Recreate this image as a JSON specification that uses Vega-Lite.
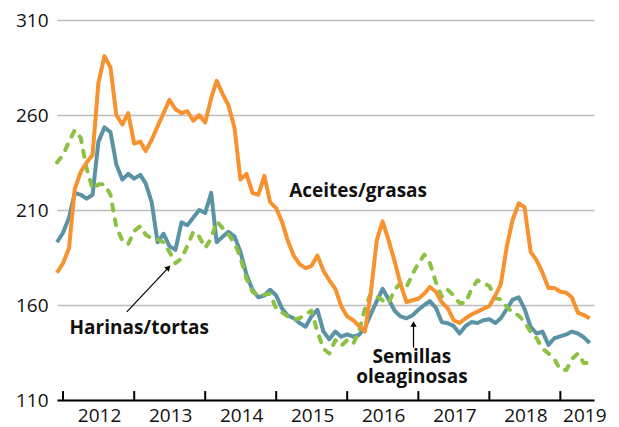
{
  "$schema": "https://vega.github.io/schema/vega-lite/v6.json",
  "width": 537,
  "height": 380,
  "autosize": "none",
  "padding": {"left": 57, "top": 20, "right": 25, "bottom": 27},
  "background": "white",
  "config": {"view": {"stroke": null}, "font": "Open Sans"},
  "datasets": {
    "series": [
      {"fecha": "2011-12-01", "aceites": 177, "semillas": 193, "harinas": 235},
      {"fecha": "2012-01-01", "aceites": 182, "semillas": 198, "harinas": 239},
      {"fecha": "2012-02-01", "aceites": 190, "semillas": 206, "harinas": 246},
      {"fecha": "2012-03-01", "aceites": 221, "semillas": 219, "harinas": 252},
      {"fecha": "2012-04-01", "aceites": 230, "semillas": 218, "harinas": 248},
      {"fecha": "2012-05-01", "aceites": 235, "semillas": 216, "harinas": 232},
      {"fecha": "2012-06-01", "aceites": 239, "semillas": 218, "harinas": 221},
      {"fecha": "2012-07-01", "aceites": 277, "semillas": 246, "harinas": 223.5},
      {"fecha": "2012-08-01", "aceites": 291, "semillas": 253.5, "harinas": 223.5},
      {"fecha": "2012-09-01", "aceites": 285, "semillas": 251, "harinas": 218},
      {"fecha": "2012-10-01", "aceites": 260, "semillas": 234, "harinas": 201},
      {"fecha": "2012-11-01", "aceites": 255, "semillas": 226, "harinas": 194},
      {"fecha": "2012-12-01", "aceites": 261, "semillas": 229, "harinas": 192},
      {"fecha": "2013-01-01", "aceites": 245, "semillas": 226.5, "harinas": 199},
      {"fecha": "2013-02-01", "aceites": 246, "semillas": 228.5, "harinas": 201.5},
      {"fecha": "2013-03-01", "aceites": 241, "semillas": 224, "harinas": 197},
      {"fecha": "2013-04-01", "aceites": 247, "semillas": 214, "harinas": 195},
      {"fecha": "2013-05-01", "aceites": 254, "semillas": 193, "harinas": 194.5},
      {"fecha": "2013-06-01", "aceites": 261, "semillas": 197.5, "harinas": 193},
      {"fecha": "2013-07-01", "aceites": 268, "semillas": 191, "harinas": 188},
      {"fecha": "2013-08-01", "aceites": 263, "semillas": 189, "harinas": 182},
      {"fecha": "2013-09-01", "aceites": 261, "semillas": 203.5, "harinas": 184.5},
      {"fecha": "2013-10-01", "aceites": 262, "semillas": 202, "harinas": 191},
      {"fecha": "2013-11-01", "aceites": 257, "semillas": 206, "harinas": 198.6},
      {"fecha": "2013-12-01", "aceites": 260, "semillas": 210, "harinas": 196},
      {"fecha": "2014-01-01", "aceites": 256, "semillas": 208.5, "harinas": 190},
      {"fecha": "2014-02-01", "aceites": 269, "semillas": 219, "harinas": 195},
      {"fecha": "2014-03-01", "aceites": 278, "semillas": 193, "harinas": 204},
      {"fecha": "2014-04-01", "aceites": 271, "semillas": 196, "harinas": 200.5},
      {"fecha": "2014-05-01", "aceites": 265, "semillas": 198.5, "harinas": 197},
      {"fecha": "2014-06-01", "aceites": 253, "semillas": 196, "harinas": 192.5},
      {"fecha": "2014-07-01", "aceites": 226, "semillas": 188, "harinas": 185},
      {"fecha": "2014-08-01", "aceites": 229, "semillas": 176, "harinas": 174},
      {"fecha": "2014-09-01", "aceites": 219, "semillas": 168, "harinas": 167},
      {"fecha": "2014-10-01", "aceites": 218, "semillas": 164, "harinas": 165},
      {"fecha": "2014-11-01", "aceites": 228, "semillas": 165, "harinas": 165.5},
      {"fecha": "2014-12-01", "aceites": 214, "semillas": 168, "harinas": 166},
      {"fecha": "2015-01-01", "aceites": 211, "semillas": 165, "harinas": 158},
      {"fecha": "2015-02-01", "aceites": 203.5, "semillas": 158, "harinas": 156},
      {"fecha": "2015-03-01", "aceites": 194, "semillas": 154.5, "harinas": 154},
      {"fecha": "2015-04-01", "aceites": 186, "semillas": 153, "harinas": 152.5},
      {"fecha": "2015-05-01", "aceites": 181.5, "semillas": 150.5, "harinas": 153},
      {"fecha": "2015-06-01", "aceites": 179.4, "semillas": 148.6, "harinas": 155},
      {"fecha": "2015-07-01", "aceites": 180.5, "semillas": 154, "harinas": 157},
      {"fecha": "2015-08-01", "aceites": 186, "semillas": 157.5, "harinas": 146},
      {"fecha": "2015-09-01", "aceites": 178, "semillas": 146, "harinas": 137},
      {"fecha": "2015-10-01", "aceites": 173, "semillas": 142, "harinas": 134.5},
      {"fecha": "2015-11-01", "aceites": 168.5, "semillas": 146, "harinas": 141.5},
      {"fecha": "2015-12-01", "aceites": 159.5, "semillas": 143.3, "harinas": 138.5},
      {"fecha": "2016-01-01", "aceites": 154, "semillas": 144.5, "harinas": 141.5},
      {"fecha": "2016-02-01", "aceites": 152, "semillas": 143.3, "harinas": 139.5},
      {"fecha": "2016-03-01", "aceites": 149, "semillas": 144.2, "harinas": 146},
      {"fecha": "2016-04-01", "aceites": 146, "semillas": 148, "harinas": 158},
      {"fecha": "2016-05-01", "aceites": 166, "semillas": 155, "harinas": 166},
      {"fecha": "2016-06-01", "aceites": 194, "semillas": 162, "harinas": 164.5},
      {"fecha": "2016-07-01", "aceites": 204, "semillas": 168.5, "harinas": 162.5},
      {"fecha": "2016-08-01", "aceites": 194, "semillas": 163, "harinas": 161},
      {"fecha": "2016-09-01", "aceites": 183, "semillas": 157, "harinas": 168},
      {"fecha": "2016-10-01", "aceites": 171, "semillas": 154, "harinas": 171.5},
      {"fecha": "2016-11-01", "aceites": 161.5, "semillas": 153, "harinas": 169.5},
      {"fecha": "2016-12-01", "aceites": 162.5, "semillas": 154.5, "harinas": 176},
      {"fecha": "2017-01-01", "aceites": 163.3, "semillas": 157.5, "harinas": 182},
      {"fecha": "2017-02-01", "aceites": 166, "semillas": 160, "harinas": 186.5},
      {"fecha": "2017-03-01", "aceites": 169.5, "semillas": 162, "harinas": 182},
      {"fecha": "2017-04-01", "aceites": 167, "semillas": 158.5, "harinas": 172},
      {"fecha": "2017-05-01", "aceites": 161.5, "semillas": 151, "harinas": 164.4},
      {"fecha": "2017-06-01", "aceites": 158.3, "semillas": 150.4, "harinas": 168},
      {"fecha": "2017-07-01", "aceites": 152, "semillas": 149, "harinas": 165},
      {"fecha": "2017-08-01", "aceites": 150.5, "semillas": 145, "harinas": 161},
      {"fecha": "2017-09-01", "aceites": 153, "semillas": 149, "harinas": 161},
      {"fecha": "2017-10-01", "aceites": 155, "semillas": 151, "harinas": 168.5},
      {"fecha": "2017-11-01", "aceites": 156.5, "semillas": 150.5, "harinas": 173},
      {"fecha": "2017-12-01", "aceites": 158, "semillas": 152, "harinas": 171.4},
      {"fecha": "2018-01-01", "aceites": 159.5, "semillas": 152.5, "harinas": 170},
      {"fecha": "2018-02-01", "aceites": 165, "semillas": 150.5, "harinas": 163.5},
      {"fecha": "2018-03-01", "aceites": 171, "semillas": 153, "harinas": 163},
      {"fecha": "2018-04-01", "aceites": 191, "semillas": 158, "harinas": 159},
      {"fecha": "2018-05-01", "aceites": 205, "semillas": 162.8, "harinas": 156},
      {"fecha": "2018-06-01", "aceites": 213.5, "semillas": 164, "harinas": 154.5},
      {"fecha": "2018-07-01", "aceites": 211.5, "semillas": 158, "harinas": 151},
      {"fecha": "2018-08-01", "aceites": 188, "semillas": 148.5, "harinas": 146},
      {"fecha": "2018-09-01", "aceites": 183.5, "semillas": 145, "harinas": 142.5},
      {"fecha": "2018-10-01", "aceites": 177, "semillas": 146, "harinas": 137},
      {"fecha": "2018-11-01", "aceites": 169, "semillas": 139, "harinas": 134.5},
      {"fecha": "2018-12-01", "aceites": 169, "semillas": 142.5, "harinas": 131.5},
      {"fecha": "2019-01-01", "aceites": 167, "semillas": 143.5, "harinas": 126},
      {"fecha": "2019-02-01", "aceites": 166.5, "semillas": 144.5, "harinas": 125.8},
      {"fecha": "2019-03-01", "aceites": 164, "semillas": 146, "harinas": 131.5},
      {"fecha": "2019-04-01", "aceites": 156, "semillas": 145, "harinas": 134.5},
      {"fecha": "2019-05-01", "aceites": 154.7, "semillas": 143, "harinas": 129.5},
      {"fecha": "2019-06-01", "aceites": 153, "semillas": 140, "harinas": 129.5}
    ],
    "etiquetas": [
      {"fecha": "2016-02-26", "valor": 217.1, "texto": "Aceites/grasas"},
      {"fecha": "2013-01-27", "valor": 144.7, "texto": "Harinas/tortas"},
      {"fecha": "2016-11-29", "valor": 129.3, "texto": "Semillas\noleaginosas"}
    ],
    "flechas": [
      {"fecha": "2012-11-24", "valor": 156.4, "fecha2": "2013-06-26", "valor2": 179.7},
      {"fecha": "2016-12-07", "valor": 137.5, "fecha2": "2016-12-07", "valor2": 150}
    ],
    "punta_harinas": [{"fecha": "2013-06-26", "valor": 179.7}],
    "punta_semillas": [{"fecha": "2016-12-07", "valor": 150}],
    "marcas": [
      {"fecha": "2012-01-01", "valor": 110, "valor2": 114.7},
      {"fecha": "2013-01-01", "valor": 110, "valor2": 114.7},
      {"fecha": "2014-01-01", "valor": 110, "valor2": 114.7},
      {"fecha": "2015-01-01", "valor": 110, "valor2": 114.7},
      {"fecha": "2016-01-01", "valor": 110, "valor2": 114.7},
      {"fecha": "2017-01-01", "valor": 110, "valor2": 114.7},
      {"fecha": "2018-01-01", "valor": 110, "valor2": 114.7},
      {"fecha": "2019-01-01", "valor": 110, "valor2": 114.7}
    ]
  },
  "encoding": {
    "x": {
      "field": "fecha",
      "type": "temporal",
      "scale": {
        "type": "utc",
        "domain": [
          {"year": 2011, "month": 12, "date": 1, "utc": true},
          {"year": 2019, "month": 6, "date": 23, "utc": true}
        ]
      },
      "axis": {
        "title": null,
        "grid": false,
        "values": [
          {"year": 2012, "month": 1, "date": 1, "utc": true},
          {"year": 2013, "month": 1, "date": 1, "utc": true},
          {"year": 2014, "month": 1, "date": 1, "utc": true},
          {"year": 2015, "month": 1, "date": 1, "utc": true},
          {"year": 2016, "month": 1, "date": 1, "utc": true},
          {"year": 2017, "month": 1, "date": 1, "utc": true},
          {"year": 2018, "month": 1, "date": 1, "utc": true},
          {"year": 2019, "month": 1, "date": 1, "utc": true}
        ],
        "labelExpr": "utcFormat(datum.value, '%Y')",
        "domainColor": "#000000",
        "domainWidth": 2,
        "ticks": false,
        "labelOffset": {"condition": {"test": "utcyear(datum.value) == 2019", "value": 24}, "value": 36},
        "labelPadding": 6.5,
        "labelFontSize": 19,
        "labelFont": "Open Sans",
        "labelColor": "#111111",
        "labelFlush": false,
        "labelOverlap": false,
        "labelBound": false
      }
    },
    "y": {
      "field": "valor",
      "type": "quantitative",
      "scale": {"domain": [110, 310], "nice": false, "zero": false},
      "axis": {
        "title": null,
        "values": [110, 160, 210, 260, 310],
        "domain": false,
        "ticks": false,
        "grid": true,
        "gridColor": "#BDBDBD",
        "gridWidth": 1.5,
        "labelFontSize": 19,
        "labelFont": "Open Sans",
        "labelColor": "#111111",
        "labelPadding": 9
      }
    }
  },
  "layer": [
    {
      "data": {"name": "series"},
      "transform": [
        {"fold": ["aceites", "semillas", "harinas"], "as": ["serie", "valor"]},
        {"filter": "datum.serie === 'semillas'"}
      ],
      "mark": {"type": "line", "color": "#5B93A6", "strokeWidth": 4, "strokeJoin": "round"}
    },
    {
      "data": {"name": "series"},
      "transform": [
        {"fold": ["aceites", "semillas", "harinas"], "as": ["serie", "valor"]},
        {"filter": "datum.serie === 'harinas'"}
      ],
      "mark": {"type": "line", "color": "#8CC243", "strokeWidth": 4, "strokeDash": [6, 9], "strokeCap": "round", "strokeJoin": "round"}
    },
    {
      "data": {"name": "series"},
      "transform": [
        {"fold": ["aceites", "semillas", "harinas"], "as": ["serie", "valor"]},
        {"filter": "datum.serie === 'aceites'"}
      ],
      "mark": {"type": "line", "color": "#F7922F", "strokeWidth": 4, "strokeJoin": "round"}
    },
    {
      "data": {"name": "marcas"},
      "mark": {"type": "rule", "color": "#000000", "strokeWidth": 2},
      "encoding": {"y2": {"field": "valor2"}}
    },
    {
      "data": {"name": "flechas"},
      "mark": {"type": "rule", "color": "#000000", "strokeWidth": 1.2},
      "encoding": {"x2": {"field": "fecha2"}, "y2": {"field": "valor2"}}
    },
    {
      "data": {"name": "punta_harinas"},
      "mark": {"type": "point", "shape": "triangle-up", "filled": true, "color": "#000000", "opacity": 1, "size": 40, "angle": 43}
    },
    {
      "data": {"name": "punta_semillas"},
      "mark": {"type": "point", "shape": "triangle-up", "filled": true, "color": "#000000", "opacity": 1, "size": 40, "angle": 0}
    },
    {
      "data": {"name": "etiquetas"},
      "mark": {"type": "text", "font": "Open Sans", "fontWeight": "bold", "fontSize": 19, "align": "center", "baseline": "alphabetic", "color": "#111111", "lineBreak": "\n", "lineHeight": 19.5},
      "encoding": {"text": {"field": "texto", "type": "nominal"}}
    }
  ]
}
